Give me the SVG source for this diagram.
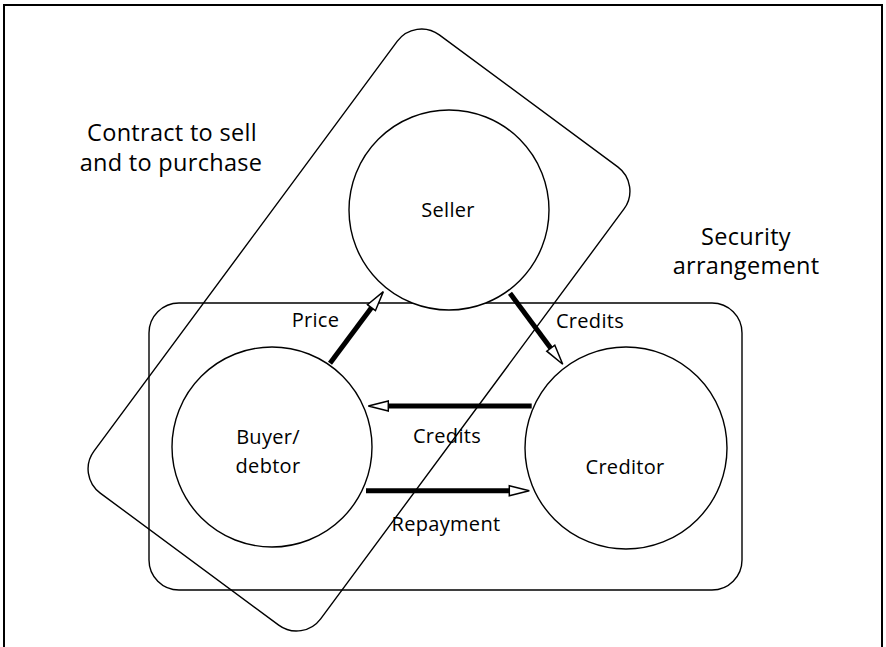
<svg xmlns="http://www.w3.org/2000/svg" width="886" height="647" viewBox="0 0 886 647">
<style>
.ln{fill:none;stroke:#000;stroke-width:1.4}
.nd{fill:#fff;stroke:#000;stroke-width:1.4}
.t{font-family:"Open Sans","DejaVu Sans",sans-serif;font-size:20px;fill:#000;text-anchor:middle;letter-spacing:0.3px}
.tl{font-family:"Open Sans","DejaVu Sans",sans-serif;font-size:23.5px;fill:#000;text-anchor:middle;letter-spacing:0.3px}
.ar{fill:none;stroke:#000;stroke-width:5}
</style>
<defs>
<marker id="ah" viewBox="0 0 22 14" refX="1" refY="7" markerWidth="22" markerHeight="14" markerUnits="userSpaceOnUse" orient="auto">
<path d="M1,2 L21,7 L1,12 Z" fill="#fff" stroke="#000" stroke-width="1.5"/>
</marker>
</defs>
<rect x="0" y="0" width="886" height="647" fill="#fff"/>
<rect x="4" y="5" width="878" height="647" fill="none" stroke="#000" stroke-width="2"/>
<g id="security">
<rect class="ln" x="149" y="303" width="593" height="287" rx="30"/>
<text class="tl" x="746" y="245">Security</text>
<text class="tl" x="746" y="274">arrangement</text>
</g>
<g id="contract">
<rect class="ln" x="-141" y="-285" width="282" height="570" rx="30" transform="translate(359,330) rotate(36.5)"/>
<text class="tl" x="172" y="141">Contract to sell</text>
<text class="tl" x="171" y="171">and to purchase</text>
</g>
<g id="seller">
<circle class="nd" cx="449" cy="210" r="100"/>
<text class="t" x="448" y="217">Seller</text>
</g>
<g id="buyer">
<circle class="nd" cx="272" cy="447" r="100"/>
<text class="t" x="268" y="444">Buyer/</text>
<text class="t" x="268" y="473">debtor</text>
</g>
<g id="creditor">
<circle class="nd" cx="626" cy="448" r="101"/>
<text class="t" x="625" y="474">Creditor</text>
</g>
<g id="connectors">
<line class="ar" x1="330" y1="363.3" x2="371.4" y2="307.7" marker-end="url(#ah)"/>
<line class="ar" x1="510" y1="293.3" x2="550.8" y2="348.2" marker-end="url(#ah)"/>
<line class="ar" x1="531.7" y1="406" x2="388.3" y2="406" marker-end="url(#ah)"/>
<line class="ar" x1="366" y1="490.7" x2="509.3" y2="490.7" marker-end="url(#ah)"/>
<text class="t" x="315.5" y="327">Price</text>
<text class="t" x="590" y="328">Credits</text>
<text class="t" x="447" y="443">Credits</text>
<text class="t" x="446" y="531">Repayment</text>
</g>
</svg>
